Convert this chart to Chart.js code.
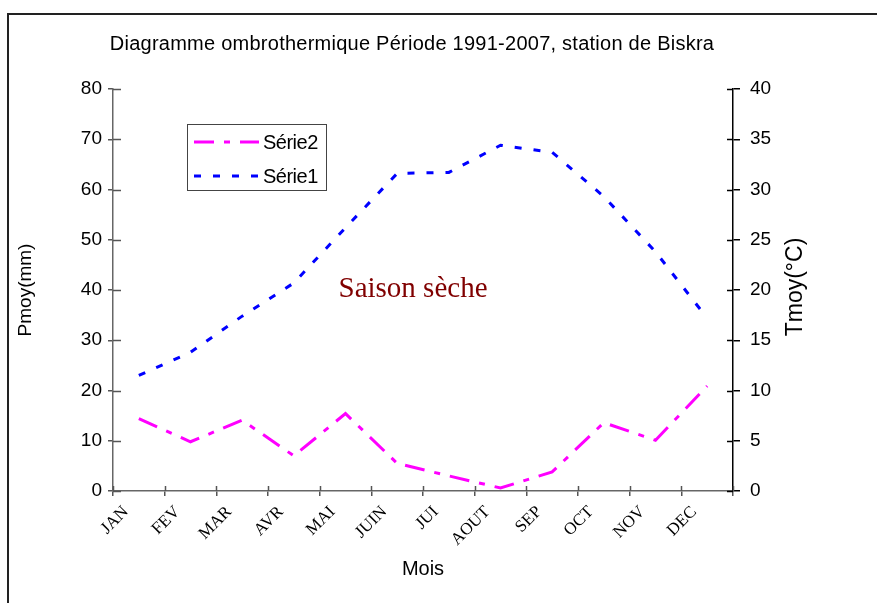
<!DOCTYPE html>
<html>
<head>
<meta charset="utf-8">
<script src="https://cdn.jsdelivr.net/npm/chart.js@4.4.1/dist/chart.umd.min.js"></script>
<style>
  html, body { margin: 0; padding: 0; background: #fff; }
  #wrap { width: 877px; height: 603px; }
</style>
</head>
<body>
<div id="wrap"><canvas id="myChart" width="877" height="603"></canvas></div>
<script>
// mois
const months = ['JAN', 'FEV', 'MAR', 'AVR', 'MAI', 'JUIN', 'JUI', 'AOUT', 'SEP', 'OCT', 'NOV', 'DEC'];
// Série1 : Tmoy (°C), axe de droite
const tmoy = [11.5, 13.8, 17.4, 20.7, 26.2, 31.6, 31.7, 34.4, 33.7, 29.3, 23.8, 17.2];
// Série2 : Pmoy (mm), axe de gauche
const pmoy = [14.4, 9.8, 14.1, 7.0, 15.4, 5.5, 3.0, 0.6, 3.8, 13.6, 10.1, 20.9];

const titleText = 'Diagramme ombrothermique Période 1991-2007, station de Biskra';
const sans = '"Liberation Sans", Arial, sans-serif';
const serif = '"Liberation Serif", "Times New Roman", serif';

// cadre, titre, légende, texte et petites graduations intérieures
const decor = {
  id: 'decor',
  afterDraw(chart) {
    const ctx = chart.ctx;
    const area = chart.chartArea;
    const sc = chart.scales;
    ctx.save();

    // cadre extérieur
    ctx.strokeStyle = '#222';
    ctx.lineWidth = 2;
    ctx.beginPath();
    ctx.moveTo(8, 603);
    ctx.lineTo(8, 14);
    ctx.lineTo(877, 14);
    ctx.stroke();

    // titre
    ctx.fillStyle = '#000';
    ctx.font = '20px ' + sans;
    ctx.letterSpacing = '0.25px';
    ctx.textAlign = 'center';
    ctx.textBaseline = 'middle';
    ctx.fillText(titleText, 412, 44);
    ctx.letterSpacing = '0px';

    // graduations intérieures
    ctx.lineWidth = 1.5;
    ctx.strokeStyle = '#555';
    ctx.beginPath();
    sc.y.ticks.forEach(t => {
      const py = Math.round(sc.y.getPixelForValue(t.value)) + 0.5;
      ctx.moveTo(area.left, py); ctx.lineTo(area.left + 8, py);
    });
    for (let i = 0; i <= months.length; i++) {
      const px = Math.round(sc.x.getPixelForValue(i - 0.5)) + 0.5;
      ctx.moveTo(px, area.bottom); ctx.lineTo(px, area.bottom - 5);
    }
    ctx.stroke();
    ctx.strokeStyle = '#000';
    ctx.beginPath();
    sc.y1.ticks.forEach(t => {
      const py = Math.round(sc.y1.getPixelForValue(t.value)) + 0.5;
      ctx.moveTo(area.right, py); ctx.lineTo(area.right - 6, py);
    });
    ctx.stroke();

    // titre de l'axe de droite (lu de bas en haut)
    ctx.save();
    ctx.translate(796, 287);
    ctx.rotate(-Math.PI / 2);
    ctx.font = '23px ' + sans;
    ctx.fillStyle = '#000';
    ctx.fillText('Tmoy(°C)', 0, 0);
    ctx.restore();

    // Saison sèche
    ctx.font = '29px ' + serif;
    ctx.fillStyle = '#800000';
    ctx.fillText('Saison sèche', 413, 289);

    // légende
    ctx.strokeStyle = '#444';
    ctx.lineWidth = 1;
    ctx.strokeRect(187.5, 124.5, 139, 66);
    const items = [chart.data.datasets[1], chart.data.datasets[0]];
    items.forEach((ds, i) => {
      const ly = 142 + i * 34;
      ctx.strokeStyle = ds.borderColor;
      ctx.lineWidth = ds.borderWidth;
      ctx.setLineDash(ds.borderDash);
      ctx.beginPath();
      ctx.moveTo(194, ly); ctx.lineTo(259, ly);
      ctx.stroke();
      ctx.setLineDash([]);
      ctx.fillStyle = '#000';
      ctx.font = '20px ' + sans;
      ctx.letterSpacing = '-0.5px';
      ctx.textAlign = 'left';
      ctx.fillText(ds.label, 263, ly + 1);
      ctx.letterSpacing = '0px';
    });

    ctx.restore();
  }
};

const myChartRef = document.getElementById('myChart').getContext('2d');
new Chart(myChartRef, {
  type: 'line',
  data: {
    labels: months,
    datasets: [
      {
        label: 'Série1',
        data: tmoy,
        yAxisID: 'y1',
        borderColor: '#0000FF',
        borderWidth: 3,
        borderDash: [7, 12],
        pointRadius: 0,
        tension: 0,
        fill: false
      },
      {
        label: 'Série2',
        data: pmoy,
        yAxisID: 'y',
        borderColor: '#FF00FF',
        borderWidth: 3,
        borderDash: [20, 10, 6, 10],
        pointRadius: 0,
        tension: 0,
        fill: false
      }
    ]
  },
  options: {
    responsive: false,
    animation: false,
    layout: { padding: { top: 89, left: 0, right: 0, bottom: 0 } },
    plugins: {
      legend: { display: false },
      title: { display: false },
      tooltip: { enabled: false }
    },
    scales: {
      x: {
        offset: true,
        afterFit: s => { s.height = 112; },
        grid: { offset: true, drawOnChartArea: false, tickLength: 5, tickColor: '#555', lineWidth: 1.5 },
        border: { color: '#666', width: 1.5 },
        ticks: {
          color: '#000',
          font: { family: serif, size: 17 },
          minRotation: 45,
          maxRotation: 45,
          autoSkip: false,
          labelOffset: -13,
          padding: 6
        },
        title: {
          display: true,
          text: 'Mois',
          color: '#000',
          font: { family: sans, size: 20 },
          padding: { top: 0, bottom: 22 }
        }
      },
      y: {
        position: 'left',
        min: 0,
        max: 80,
        afterFit: s => { s.width = 113; },
        grid: { drawOnChartArea: false, tickLength: 5, tickColor: '#555', lineWidth: 1.5 },
        border: { color: '#666', width: 1.5 },
        ticks: {
          stepSize: 10,
          color: '#000',
          font: { family: sans, size: 19 },
          padding: 6
        },
        title: {
          display: true,
          text: 'Pmoy(mm)',
          color: '#000',
          font: { family: sans, size: 19 },
          padding: { top: 14, bottom: 0 }
        }
      },
      y1: {
        position: 'right',
        min: 0,
        max: 40,
        afterFit: s => { s.width = 144; },
        grid: { drawOnChartArea: false, tickLength: 7, tickColor: '#000', lineWidth: 1.5 },
        border: { color: '#000', width: 1.5 },
        ticks: {
          stepSize: 5,
          color: '#000',
          font: { family: sans, size: 19 },
          padding: 10
        }
      }
    }
  },
  plugins: [decor]
});
</script>
</body>
</html>
